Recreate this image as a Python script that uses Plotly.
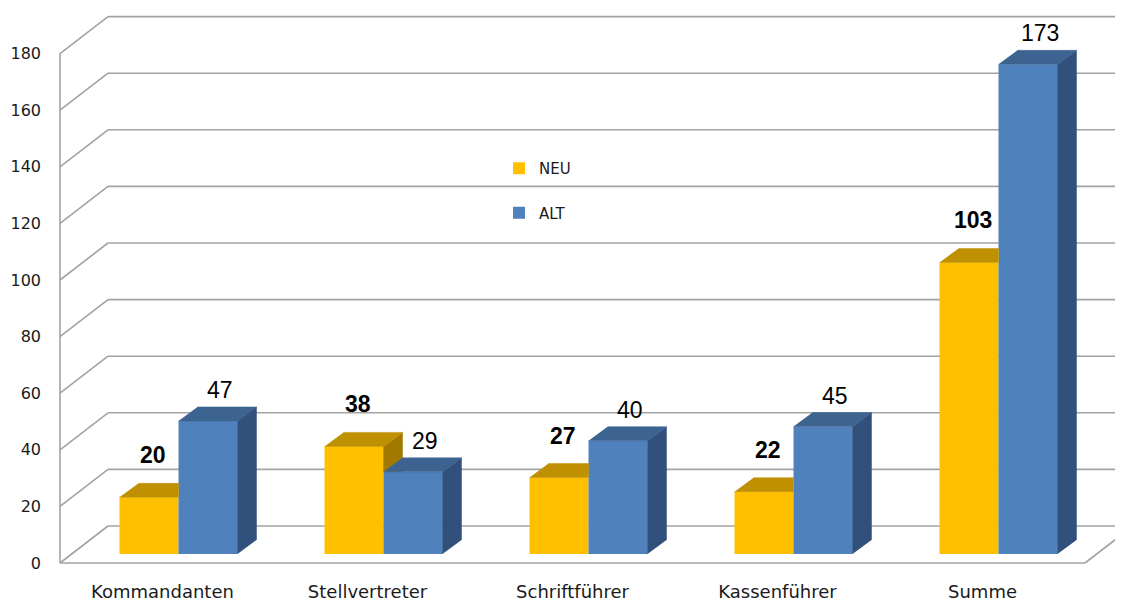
import plotly.graph_objects as go

# ---------------- data ----------------
categories = ["Kommandanten", "Stellvertreter", "Schriftführer", "Kassenführer", "Summe"]
neu_values = [20, 38, 27, 22, 103]
alt_values = [47, 29, 40, 45, 173]
series_names = ["NEU", "ALT"]
y_ticks = [0, 20, 40, 60, 80, 100, 120, 140, 160, 180]

# ---------------- geometry (pixel based pseudo-3D) ----------------
PAGE_OFF = 8                      # default body margin of the html page
W, H = 1123 - PAGE_OFF, 603 - PAGE_OFF
PX_CAT = 205.0                    # px per category
PX_VAL = 2.83                     # px per value unit
FRONT_LEFT_PX = 60 - PAGE_OFF     # x px of the front-left wall edge
ZERO_PX = 563 - PAGE_OFF          # y px of value 0 on the front plane
ML = FRONT_LEFT_PX - 10
MB = 30
PLOT_H = H - MB
PLOT_W = W - ML

xr0 = -0.5 - (FRONT_LEFT_PX - ML) / PX_CAT
xr1 = xr0 + PLOT_W / PX_CAT
yr0 = -(PLOT_H - ZERO_PX) / PX_VAL
yr1 = yr0 + PLOT_H / PX_VAL

DX = 48 / PX_CAT    # floor/wall depth
DY = 37 / PX_VAL
FX = 16 / PX_CAT    # bar front face offset (depth)
FY = 3.2
BW = 59 / PX_CAT    # bar width
BDX = 19 / PX_CAT   # bar depth
BDY = 14 / PX_VAL

GRID = "#a3a3a3"
C_NEU = dict(front="#FFC000", top="#BF9000", side="#A27A00")
C_ALT = dict(front="#4F81BD", top="#3D6391", side="#31517C")

fig = go.Figure()
n = len(categories)
xs = list(range(n))

# front faces as bars
fig.add_trace(go.Bar(
    x=[i + FX for i in xs], y=neu_values, base=FY, width=BW, offset=-BW,
    name=series_names[0], marker=dict(color=C_NEU["front"], line=dict(width=0)),
    legendgroup="neu", customdata=categories,
    hovertemplate="%{customdata}<br>NEU: %{y}<extra></extra>"))
fig.add_trace(go.Bar(
    x=[i + FX for i in xs], y=alt_values, base=FY, width=BW, offset=0,
    name=series_names[1], marker=dict(color=C_ALT["front"], line=dict(width=0)),
    legendgroup="alt", customdata=categories,
    hovertemplate="%{customdata}<br>ALT: %{y}<extra></extra>"))


def poly_trace(px, py, color):
    return go.Scatter(x=px, y=py, mode="lines", fill="toself", fillcolor=color,
                      line=dict(color=color, width=0.5), hoverinfo="skip",
                      showlegend=False)


# NEU side and top (clipped by the ALT bar in front of them)
ns_x, ns_y, nt_x, nt_y = [], [], [], []
for i, (nv, av) in enumerate(zip(neu_values, alt_values)):
    x1 = i + FX
    x0 = x1 - BW
    base, top = FY, FY + nv
    bt = FY + av
    if top > bt:
        ns_x += [x1, x1, x1 + BDX, x1 + BDX, None]
        ns_y += [bt, top, top + BDY, max(bt, base + BDY), None]
        nt_x += [x0, x1, x1 + BDX, x0 + BDX, None]
        nt_y += [top, top, top + BDY, top + BDY, None]
    else:
        nt_x += [x0, x1, x1, x0 + BDX, None]
        nt_y += [top, top, top + BDY, top + BDY, None]
fig.add_trace(poly_trace(ns_x, ns_y, C_NEU["side"]))
fig.add_trace(poly_trace(nt_x, nt_y, C_NEU["top"]))

# ALT side and top
as_x, as_y, at_x, at_y = [], [], [], []
for i, av in enumerate(alt_values):
    x0 = i + FX
    x1 = x0 + BW
    base, top = FY, FY + av
    as_x += [x1, x1, x1 + BDX, x1 + BDX, None]
    as_y += [base, top, top + BDY, base + BDY, None]
    at_x += [x0, x1, x1 + BDX, x0 + BDX, None]
    at_y += [top, top, top + BDY, top + BDY, None]
fig.add_trace(poly_trace(as_x, as_y, C_ALT["side"]))
fig.add_trace(poly_trace(at_x, at_y, C_ALT["top"]))

# walls / gridlines
shapes = []
line = dict(color=GRID, width=1.6)
for v in y_ticks:
    shapes.append(dict(type="line", xref="x", yref="y", x0=-0.5, y0=v,
                       x1=-0.5 + DX, y1=v + DY, line=line, layer="below"))
    shapes.append(dict(type="line", xref="x", yref="y", x0=-0.5 + DX, y0=v + DY,
                       x1=xr1 + 0.1, y1=v + DY, line=line, layer="below"))
shapes.append(dict(type="line", xref="x", yref="y", x0=-0.5, y0=0,
                   x1=-0.5, y1=y_ticks[-1], line=line, layer="below"))
shapes.append(dict(type="line", xref="x", yref="y", x0=-0.5, y0=0,
                   x1=n - 0.5, y1=0, line=line, layer="below"))
shapes.append(dict(type="line", xref="x", yref="y", x0=n - 0.5, y0=0,
                   x1=n - 0.5 + DX, y1=DY, line=line, layer="below"))

# data labels
annotations = []
for i, (nv, av) in enumerate(zip(neu_values, alt_values)):
    annotations.append(dict(
        x=i + FX - BW / 2, y=FY + nv, xref="x", yref="y", text=f"<b>{nv}</b>",
        showarrow=False, xanchor="center", yanchor="middle", xshift=4, yshift=42,
        font=dict(family="Liberation Sans, Arial", size=23, color="#000000")))
    annotations.append(dict(
        x=i + FX + BW / 2, y=FY + av, xref="x", yref="y", text=f"{av}",
        showarrow=False, xanchor="center", yanchor="middle", xshift=12, yshift=31,
        font=dict(family="Liberation Sans, Arial", size=23, color="#000000")))

LEG_X, LEG_Y = 499 - PAGE_OFF, 152 - PAGE_OFF
fig.update_layout(
    width=W, height=H,
    margin=dict(l=ML, r=0, t=0, b=MB, autoexpand=False),
    paper_bgcolor="white", plot_bgcolor="white",
    barmode="overlay",
    shapes=shapes, annotations=annotations,
    showlegend=True,
    legend=dict(x=(LEG_X - ML) / PLOT_W, y=(PLOT_H - LEG_Y) / PLOT_H,
                xanchor="left", yanchor="top", bgcolor="rgba(0,0,0,0)",
                font=dict(family="DejaVu Sans", size=15, color="#1a1a1a"),
                traceorder="grouped", tracegroupgap=22),
    xaxis=dict(range=[xr0, xr1], tickvals=xs, ticktext=categories, tickangle=0,
               showgrid=False, zeroline=False, showline=False, ticks="",
               tickfont=dict(family="DejaVu Sans", size=18, color="#1a1a1a"),
               ticklabelstandoff=6, automargin=False),
    yaxis=dict(range=[yr0, yr1], tickvals=y_ticks, showgrid=False, zeroline=False,
               showline=False, ticks="", automargin=False,
               tickfont=dict(family="DejaVu Sans", size=16, color="#1a1a1a"),
               ticklabelstandoff=8),
)

fig.write_html("out.html")
